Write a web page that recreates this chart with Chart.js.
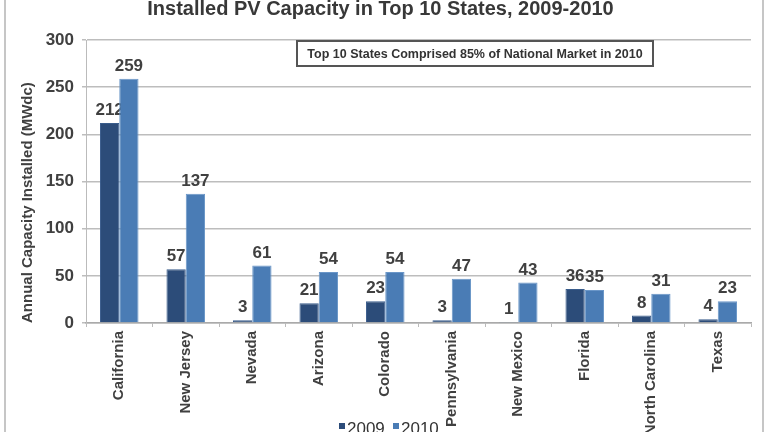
<!DOCTYPE html>
<html>
<head>
  <meta charset="UTF-8">
  <title>Installed PV Capacity in Top 10 States</title>
  <script src="https://cdn.jsdelivr.net/npm/chart.js"></script>
  <style>
    html, body { margin: 0; padding: 0; background: #fff; overflow: hidden; width: 768px; height: 432px; }
    #wrap { position: relative; width: 768px; height: 432px; }
    #frame { position: absolute; left: 4px; top: -6px; width: 756px; height: 450px; border: 2px solid #c6c6c6; pointer-events: none; }
    canvas { position: absolute; left: 0; top: 0; }
  </style>
</head>
<body>
  <div id="wrap">
    <canvas id="pvChart" width="768" height="446"></canvas>
    <div id="frame"></div>
  </div>

  <script>
    const states = ["California", "New Jersey", "Nevada", "Arizona", "Colorado",
                    "Pennsylvania", "New Mexico", "Florida", "North Carolina", "Texas"];
    const mw2009 = [212, 57, 3, 21, 23, 3, 1, 36, 8, 4];
    const mw2010 = [259, 137, 61, 54, 54, 47, 43, 35, 31, 23];
    const seriesNames = ["2009", "2010"];
    const noteText = "Top 10 States Comprised 85% of National Market in 2010";

    const textColor = "#404040";
    const font = "'Liberation Sans', Arial, sans-serif";

    // value labels: 2009 drawn under the bars, 2010 on top (like the original)
    function drawLabels(chart, dsIndex) {
      const ctx = chart.ctx;
      const meta = chart.getDatasetMeta(dsIndex);
      ctx.save();
      ctx.font = "bold 17px " + font;
      ctx.fillStyle = textColor;
      ctx.textAlign = "center";
      ctx.textBaseline = "bottom";
      meta.data.forEach((bar, i) => {
        ctx.fillText(chart.data.datasets[dsIndex].data[i], bar.x, bar.y - 4);
      });
      ctx.restore();
    }

    const labelPlugin = {
      id: "valueLabels",
      beforeDatasetsDraw(chart) { drawLabels(chart, 0); },
      afterDatasetsDraw(chart) { drawLabels(chart, 1); }
    };

    const notePlugin = {
      id: "noteBox",
      afterDraw(chart) {
        const ctx = chart.ctx;
        const x1 = 297, y1 = 41, x2 = 653, y2 = 66;
        ctx.save();
        ctx.fillStyle = "#fff";
        ctx.fillRect(x1, y1, x2 - x1, y2 - y1);
        ctx.strokeStyle = "#555";
        ctx.lineWidth = 2;
        ctx.strokeRect(x1, y1, x2 - x1, y2 - y1);
        ctx.font = "bold 12.5px " + font;
        ctx.fillStyle = "#333";
        ctx.textAlign = "center";
        ctx.textBaseline = "middle";
        ctx.fillText(noteText, (x1 + x2) / 2, (y1 + y2) / 2 + 1);
        ctx.restore();
      }
    };

    // legend sits between the rotated state names, so it is drawn by hand
    const legendPlugin = {
      id: "lowLegend",
      afterDraw(chart) {
        const ctx = chart.ctx;
        const xs = [339, 393];
        ctx.save();
        ctx.font = "17px " + font;
        ctx.textBaseline = "alphabetic";
        ctx.textAlign = "left";
        chart.data.datasets.forEach((ds, i) => {
          ctx.fillStyle = ds.backgroundColor;
          ctx.fillRect(xs[i], 423, 6, 6);
          ctx.fillStyle = "#333";
          ctx.fillText(ds.label, xs[i] + 8, 434);
        });
        ctx.restore();
      }
    };

    new Chart(document.getElementById("pvChart"), {
      type: "bar",
      data: {
        labels: states,
        datasets: [
          { label: seriesNames[0], data: mw2009, backgroundColor: "#2c4c79", borderColor: "#3a5d8c", borderWidth: 1 },
          { label: seriesNames[1], data: mw2010, backgroundColor: "#4a7cb5", borderColor: "#6a96c8", borderWidth: 1 }
        ]
      },
      plugins: [labelPlugin, notePlugin, legendPlugin],
      options: {
        responsive: false,
        animation: false,
        categoryPercentage: 0.58,
        barPercentage: 1.0,
        layout: { padding: { left: 10, right: 17, top: 0, bottom: 0 } },
        plugins: {
          title: {
            display: true,
            text: "Installed PV Capacity in Top 10 States, 2009-2010",
            color: "#383838",
            font: { family: font, size: 20, weight: "bold" },
            padding: { top: -3, bottom: 19 }
          },
          legend: { display: false },
          tooltip: { enabled: false }
        },
        scales: {
          x: {
            grid: { drawOnChartArea: false, color: "#bbb", tickLength: 4, offset: true },
            border: { color: "#aaa", width: 1.5 },
            ticks: {
              color: textColor,
              font: { family: font, size: 15, weight: "bold" },
              minRotation: 90,
              maxRotation: 90,
              autoSkip: false,
              padding: 4
            },
            afterFit(scale) { scale.height = 123; }
          },
          y: {
            min: 0,
            max: 300,
            ticks: {
              stepSize: 50,
              color: textColor,
              font: { family: font, size: 17, weight: "bold" },
              padding: 8
            },
            grid: { color: "#bdbdbd", lineWidth: 1.5, tickLength: 4 },
            border: { color: "#bbb", width: 1 },
            title: {
              display: true,
              text: "Annual Capacity Installed (MWdc)",
              align: "start",
              color: textColor,
              font: { family: font, size: 15, weight: "bold" },
              padding: { top: 9, bottom: 0 }
            },
            afterFit(scale) { scale.width = 76; }
          }
        }
      }
    });
  </script>
</body>
</html>
